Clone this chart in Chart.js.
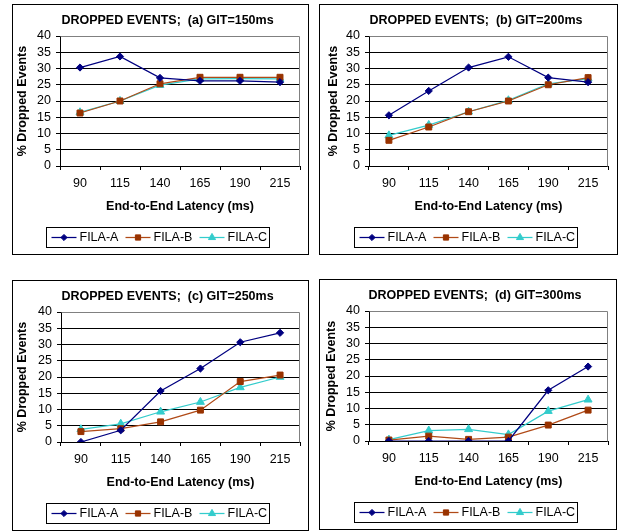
<!DOCTYPE html>
<html>
<head>
<meta charset="utf-8">
<script src="https://cdn.jsdelivr.net/npm/chart.js@4/dist/chart.umd.min.js"></script>
<style>
body { margin: 0; background: #fff; width: 623px; height: 532px; position: relative; overflow: hidden; }
.panel { position: absolute; border: 1px solid #000; box-sizing: border-box; background: #fff; }
.panel canvas { display: block; }
</style>
</head>
<body>
<div class="panel" style="left:12px;top:4px;width:297px;height:251px"><canvas id="chartA"></canvas></div>
<div class="panel" style="left:319px;top:4px;width:299px;height:251px"><canvas id="chartB"></canvas></div>
<div class="panel" style="left:12px;top:280px;width:297px;height:251px"><canvas id="chartC"></canvas></div>
<div class="panel" style="left:319px;top:279px;width:298px;height:251px"><canvas id="chartD"></canvas></div>
<script>
// data
var latencies = ['90', '115', '140', '165', '190', '215'];
var seriesNames = ['FILA-A', 'FILA-B', 'FILA-C'];
var panelTitles = ['DROPPED EVENTS;  (a) GIT=150ms', 'DROPPED EVENTS;  (b) GIT=200ms',
                   'DROPPED EVENTS;  (c) GIT=250ms', 'DROPPED EVENTS;  (d) GIT=300ms'];
var yTicks = [0, 5, 10, 15, 20, 25, 30, 35, 40];

var git150A = [30.3, 33.7, 27.1, 26.2, 26.2, 25.8];
var git150B = [16.3, 20.0, 25.3, 27.3, 27.3, 27.3];
var git150C = [16.5, 20.0, 24.9, 26.8, 26.9, 26.8];

var git200A = [15.6, 23.1, 30.3, 33.6, 27.2, 25.8];
var git200B = [7.9, 12.0, 16.7, 20.0, 25.0, 27.2];
var git200C = [9.4, 12.6, 16.7, 20.2, 25.3, 26.9];

var git250A = [0.0, 3.6, 15.7, 22.6, 30.7, 33.6];
var git250B = [3.2, 4.1, 6.2, 9.8, 18.6, 20.6];
var git250C = [3.9, 5.6, 9.3, 12.3, 16.8, 20.0];

var git300A = [0.0, 0.0, 0.0, 0.0, 15.6, 22.9];
var git300B = [0.3, 1.5, 0.5, 1.2, 4.9, 9.5];
var git300C = [0.4, 3.2, 3.6, 2.0, 9.2, 12.7];

// layout of each panel (canvas-relative px)
var panelLayout = [
  { id: 'chartA', padL: 22, padR: 8, yAxisW: 25, yTitleX: 10 },
  { id: 'chartB', padL: 24, padR: 9, yAxisW: 25, yTitleX: 13.5 },
  { id: 'chartC', padL: 22, padR: 8, yAxisW: 26, yTitleX: 10 },
  { id: 'chartD', padL: 22, padR: 8, yAxisW: 27, yTitleX: 11.5 }
];
var panelData = [
  [git150A, git150B, git150C],
  [git200A, git200B, git200C],
  [git250A, git250B, git250C],
  [git300A, git300B, git300C]
];

var lineColors = ['#000080', '#B04A17', '#33CCCC'];
var markColors = ['#000080', '#993300', '#33CCCC'];
var markStyles = ['rectRot', 'rect', 'triangle'];
var markSizes = [3.6, 4.2, 4.6];
var FONT = '"Liberation Sans", Arial, sans-serif';

// plot-area frame (gray top + right edge, like the original)
var plotFrame = {
  id: 'plotFrame',
  beforeDatasetsDraw: function(chart) {
    var a = chart.chartArea, ctx = chart.ctx;
    ctx.save();
    ctx.strokeStyle = '#808080';
    ctx.lineWidth = 1;
    ctx.beginPath();
    ctx.moveTo(Math.round(a.left) + 0.5, Math.round(a.top) + 0.5);
    ctx.lineTo(Math.round(a.right) - 0.5, Math.round(a.top) + 0.5);
    ctx.lineTo(Math.round(a.right) - 0.5, Math.round(a.bottom) + 0.5);
    ctx.stroke();
    ctx.restore();
  }
};

// boxed legend with line + marker samples
var boxLegend = {
  id: 'boxLegend',
  afterDraw: function(chart) {
    var ctx = chart.ctx;
    var left = Math.round(chart.width / 2 - 3 - 111.5) + 0.5;
    var top = 222.5;
    ctx.save();
    ctx.strokeStyle = '#000';
    ctx.lineWidth = 1;
    ctx.strokeRect(left, top, 223, 20);
    chart.data.datasets.forEach(function(ds, i) {
      var x = left + 5 + i * 74, y = top + 10;
      ctx.strokeStyle = ds.borderColor;
      ctx.lineWidth = ds.borderWidth;
      ctx.beginPath();
      ctx.moveTo(x, y);
      ctx.lineTo(x + 25, y);
      ctx.stroke();
      ctx.fillStyle = ds.pointBackgroundColor;
      ctx.strokeStyle = ds.pointBorderColor;
      ctx.lineWidth = 1;
      Chart.helpers.drawPoint(ctx, { pointStyle: ds.pointStyle, radius: ds.pointRadius - 0.5, borderWidth: 1, rotation: 0 }, x + 12.5, y);
      ctx.fillStyle = '#000';
      ctx.font = '12.5px ' + FONT;
      ctx.textBaseline = 'middle';
      ctx.textAlign = 'left';
      ctx.fillText(ds.label, x + 28, y + 0.5);
    });
    ctx.restore();
  }
};

panelLayout.forEach(function(p, k) {
  var datasets = seriesNames.map(function(name, i) {
    return {
      label: name,
      data: panelData[k][i],
      borderColor: lineColors[i],
      borderWidth: 1.25,
      pointStyle: markStyles[i],
      pointRadius: markSizes[i],
      pointHoverRadius: markSizes[i],
      pointBackgroundColor: markColors[i],
      pointBorderColor: markColors[i],
      pointBorderWidth: 1,
      tension: 0,
      fill: false
    };
  });

  new Chart(document.getElementById(p.id), {
    type: 'line',
    data: { labels: latencies, datasets: datasets },
    plugins: [plotFrame, boxLegend],
    options: {
      responsive: true,
      maintainAspectRatio: false,
      animation: false,
      layout: { padding: { left: p.padL, right: p.padR, top: 0, bottom: 0 } },
      plugins: {
        legend: { display: false },
        tooltip: { enabled: false },
        title: {
          display: true,
          text: panelTitles[k],
          color: '#000',
          font: { family: FONT, size: 12.5, weight: 'bold' },
          padding: { top: 8.5, bottom: 7.5 }
        }
      },
      scales: {
        x: {
          type: 'category',
          offset: true,
          grid: { offset: true, drawOnChartArea: false, drawTicks: true, tickLength: 4, color: '#000', tickColor: '#000' },
          border: { display: true, color: '#000', width: 1 },
          ticks: { color: '#000', font: { family: FONT, size: 12.5 }, padding: 6, maxRotation: 0, autoSkip: false },
          title: {
            display: true,
            text: 'End-to-End Latency (ms)',
            color: '#000',
            font: { family: FONT, size: 12.5, weight: 'bold' },
            padding: { top: 4, bottom: 39.5 }
          },
          afterFit: function(scale) { scale.height = 88; }
        },
        y: {
          min: 0,
          max: 40,
          afterBuildTicks: function(scale) {
            scale.ticks = yTicks.map(function(v) { return { value: v }; });
          },
          grid: {
            color: function(c) { return c.tick && c.tick.value === 40 ? 'rgba(0,0,0,0)' : '#000'; },
            tickColor: '#000',
            tickLength: 4,
            lineWidth: 1
          },
          border: { display: true, color: '#000', width: 1 },
          ticks: { color: '#000', font: { family: FONT, size: 12.5 }, padding: 5, autoSkip: false, stepSize: 5 },
          title: {
            display: true,
            text: '% Dropped Events',
            color: '#000',
            font: { family: FONT, size: 12.5, weight: 'bold' },
            padding: { top: p.yTitleX - p.padL - 7.5, bottom: 0 }
          },
          afterFit: function(scale) { scale.width = p.yAxisW; }
        }
      }
    }
  });
});
</script>
</body>
</html>
